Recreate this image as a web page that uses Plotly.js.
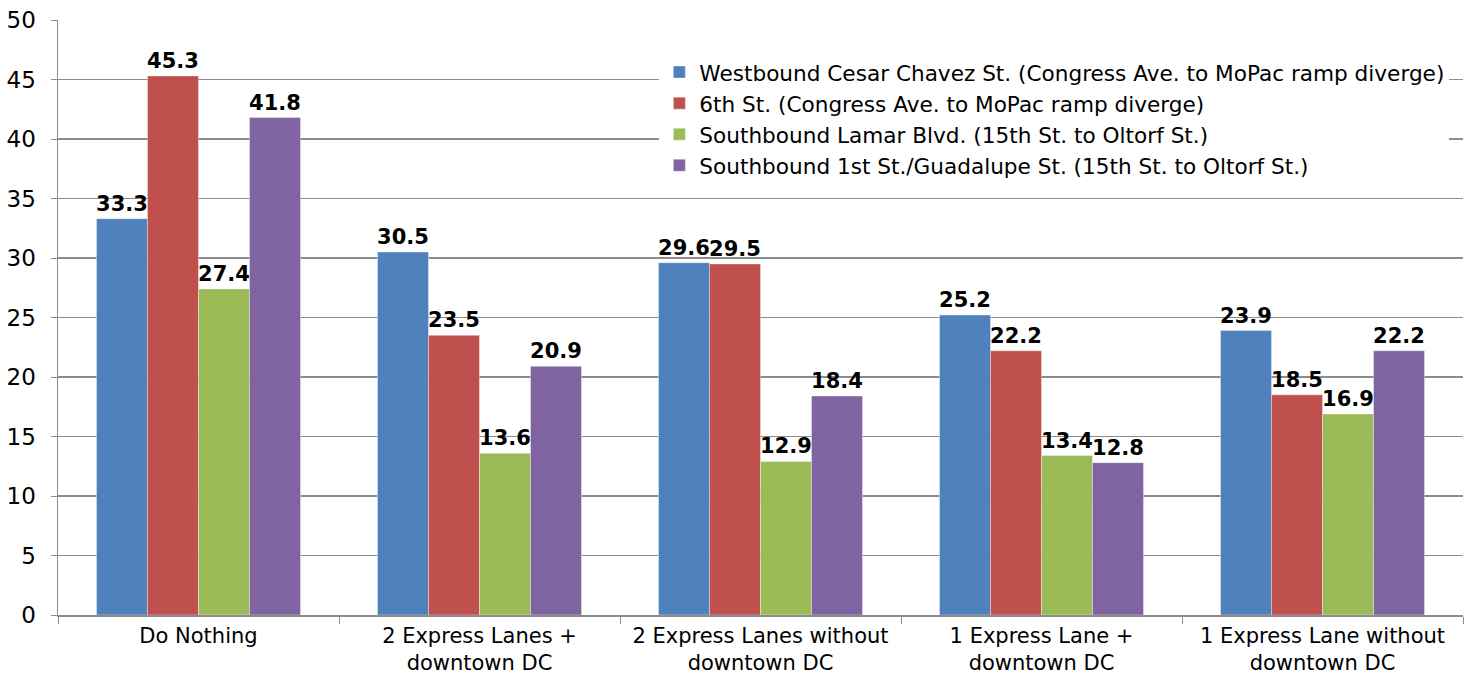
<!DOCTYPE html>
<html>
<head>
<meta charset="utf-8">
<script src="https://cdn.plot.ly/plotly-3.0.1.min.js"></script>
<style>html,body{margin:0;padding:0;background:#fff;}#chart{width:1470px;height:679px;}</style>
</head>
<body>
<div id="chart"></div>
<script>
const categories = ["Do Nothing", "2 Express Lanes +<br>downtown DC", "2 Express Lanes without<br>downtown DC", "1 Express Lane +<br>downtown DC", "1 Express Lane without<br>downtown DC"];
const seriesNames = [
  "Westbound Cesar Chavez St. (Congress Ave. to MoPac ramp diverge)",
  "6th St. (Congress Ave. to MoPac ramp diverge)",
  "Southbound Lamar Blvd. (15th St. to Oltorf St.)",
  "Southbound 1st St./Guadalupe St. (15th St. to Oltorf St.)"
];
const cesarChavez = [33.3, 30.5, 29.6, 25.2, 23.9];
const sixthSt = [45.3, 23.5, 29.5, 22.2, 18.5];
const lamar = [27.4, 13.6, 12.9, 13.4, 16.9];
const firstGuadalupe = [41.8, 20.9, 18.4, 12.8, 22.2];
const yTicks = [0, 5, 10, 15, 20, 25, 30, 35, 40, 45, 50];
const colors = ["#4F81BD", "#C0504D", "#9BBB59", "#8064A2"];

const FONT = "DejaVu Sans, Verdana, sans-serif";
const allSeries = [cesarChavez, sixthSt, lamar, firstGuadalupe];
const traces = allSeries.map((vals, i) => ({
  type: "bar",
  name: seriesNames[i],
  x: categories,
  y: vals,
  text: vals.map(v => v.toFixed(1)),
  textposition: "outside",
  constraintext: "none",
  cliponaxis: false,
  textfont: {family: FONT, size: 21, color: "#000", weight: "bold"},
  marker: {color: colors[i], line: {color: "rgba(255,255,255,0.6)", width: 0.6}},
  hoverinfo: "skip"
}));

const layout = {
  width: 1470,
  height: 679,
  margin: {l: 58, r: 7, t: 20, b: 64},
  paper_bgcolor: "#fff",
  plot_bgcolor: "#fff",
  font: {family: FONT, size: 21, color: "#000"},
  barmode: "group",
  bargap: 0.274,
  bargroupgap: 0,
  showlegend: true,
  legend: {
    x: 0.428, y: 0.947, xanchor: "left", yanchor: "top",
    bgcolor: "#fff",
    font: {family: FONT, size: 21.6, color: "#000"},
    tracegroupgap: 0,
    itemwidth: 30
  },
  xaxis: {
    type: "category",
    tickson: "boundaries",
    ticks: "outside",
    ticklen: 7,
    tickcolor: "#8c8c8c",
    showline: true,
    linecolor: "#8c8c8c",
    linewidth: 1.5,
    ticklabelstandoff: 1,
    tickfont: {family: FONT, size: 21, color: "#000"},
    showgrid: false,
    fixedrange: true
  },
  yaxis: {
    range: [0, 50],
    tickvals: yTicks,
    ticktext: yTicks.map(String),
    ticks: "outside",
    ticklen: 6,
    tickcolor: "#8c8c8c",
    showline: true,
    linecolor: "#8c8c8c",
    linewidth: 1.5,
    showgrid: true,
    gridcolor: "#8c8c8c",
    gridwidth: 1.5,
    zeroline: false,
    ticklabelstandoff: 10,
    tickfont: {family: FONT, size: 23, color: "#000"},
    fixedrange: true
  }
};

Plotly.newPlot("chart", traces, layout, {displayModeBar: false, staticPlot: true});
</script>
</body>
</html>
